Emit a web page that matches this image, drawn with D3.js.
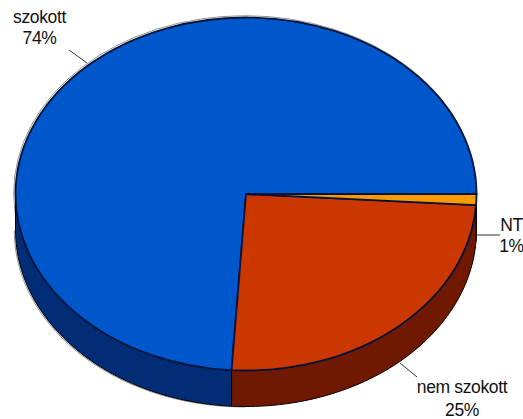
<!DOCTYPE html>
<html><head><meta charset="utf-8">
<script src="https://cdnjs.cloudflare.com/ajax/libs/d3/7.8.5/d3.min.js"></script>
<style>html,body{margin:0;padding:0;background:#fff}svg{display:block}text{font-family:"Liberation Sans",Arial,sans-serif;font-size:17.5px;fill:#111;letter-spacing:-.35px}</style>
</head><body><div id="c"></div>
<script>
const categories = ["NT", "nem szokott", "szokott"];
const values = [1, 25, 74];
const percentLabels = ["1%", "25%", "74%"];
const topColors = ["#ff9900", "#cc3700", "#0057cc"];
const sideColors = ["#a86400", "#701800", "#002d75"];

const W = 523, H = 419, cx = 246, cy = 194, rx = 230.5, ry = 176.5, depth = 36;
const labelLayout = [
  {x: 511.5, y1: 231, y2: 252, line: [477, 235, 500, 235]},
  {x: 462, y1: 393, y2: 416, line: [400, 363, 417, 377]},
  {x: 39.5, y1: 23, y2: 44, line: [69, 50, 87, 63]}
];

const svg = d3.select("#c").append("svg").attr("width", W).attr("height", H);
const arcs = d3.pie().sort(null).startAngle(Math.PI / 2).endAngle(Math.PI * 2.5)(values);
const arc = d3.arc().innerRadius(0).outerRadius(rx);
const px = a => cx + rx * Math.sin(a), py = a => cy - ry * Math.cos(a);

// thin grey outline, slightly offset from the pie
svg.append("ellipse").attr("cx", cx - .8).attr("cy", cy - .8).attr("rx", rx + 1).attr("ry", ry + 1)
  .attr("fill", "none").attr("stroke", "#777").attr("stroke-width", .8);
const lowerLeft = d3.range(0, 91).map(k => Math.PI * 1.5 - k / 90 * Math.PI / 2);
svg.append("path")
  .attr("d", d3.line()(lowerLeft.map(a => [px(a) - 1.2, py(a) + depth + .5])))
  .attr("fill", "none").attr("stroke", "#777").attr("stroke-width", .8);

// side walls (visible lower half only)
arcs.forEach((d, i) => {
  const a0 = Math.max(d.startAngle, Math.PI / 2), a1 = Math.min(d.endAngle, Math.PI * 1.5);
  if (a1 <= a0) return;
  const ts = d3.range(0, 61).map(k => a0 + (a1 - a0) * k / 60);
  const pts = ts.map(a => [px(a), py(a)]).concat(ts.slice().reverse().map(a => [px(a), py(a) + depth]));
  svg.append("path").attr("d", d3.line().curve(d3.curveLinearClosed)(pts))
    .attr("fill", sideColors[i]).attr("stroke", "#000").attr("stroke-width", 1).attr("stroke-linejoin", "round");
});

// top faces
[2, 1, 0].forEach(i => {
  svg.append("path").attr("d", arc(arcs[i]))
    .attr("transform", `translate(${cx},${cy}) scale(1,${ry / rx})`)
    .attr("fill", topColors[i]).attr("stroke", "#00143c").attr("stroke-width", 1.8)
    .attr("stroke-linejoin", "miter").attr("vector-effect", "non-scaling-stroke");
});

// labels and leader lines
categories.forEach((c, i) => {
  const l = labelLayout[i];
  svg.append("line").attr("x1", l.line[0]).attr("y1", l.line[1]).attr("x2", l.line[2]).attr("y2", l.line[3])
    .attr("stroke", "#333").attr("stroke-width", 1);
  svg.append("text").attr("x", l.x).attr("y", l.y1).attr("text-anchor", "middle").text(c);
  svg.append("text").attr("x", l.x).attr("y", l.y2).attr("text-anchor", "middle").text(percentLabels[i]);
});
</script></body></html>
